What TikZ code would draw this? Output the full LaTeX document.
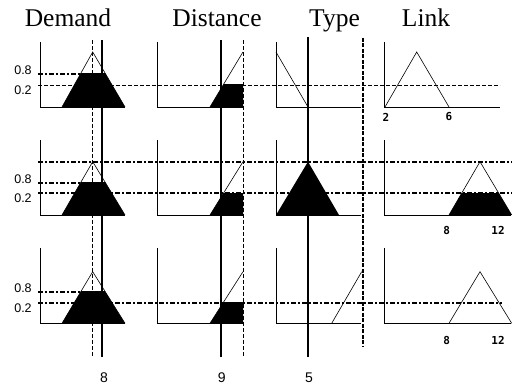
\documentclass[tikz,border=0pt]{standalone}
\usepackage{fontspec}
\setmainfont{Liberation Serif}
\newfontfamily\smallfont{Liberation Sans}
\newfontfamily\monofont{DejaVu Sans Mono}
\begin{document}
\begin{tikzpicture}[x=1pt,y=-1pt,
  axis/.style={line width=0.9pt},
  mf/.style={line width=0.6pt},
  thinrule/.style={line width=0.8pt,dash pattern=on 4pt off 2pt},
  cutrule/.style={line width=1.8pt,dash pattern=on 5pt off 2pt on 2pt off 2pt},
  inrule/.style={line width=2.4pt},
  sepdash/.style={line width=2.2pt,dash pattern=on 4pt off 1.5pt},
  title/.style={font=\fontsize{25.5}{30}\selectfont,anchor=base,inner sep=0pt},
  lvl/.style={font=\smallfont\fontsize{12.5}{14}\selectfont,inner sep=0pt},
  tick/.style={font=\monofont\bfseries\fontsize{11}{13}\selectfont,inner sep=0pt},
  inval/.style={font=\smallfont\fontsize{14}{16}\selectfont,inner sep=0pt}]
\useasboundingbox (0,0) rectangle (512,387);

% column titles
\node[title] (tDemand) at (68,26.7) {Demand};
\node[title] (tDistance) at (217,26.7) {Distance};
\node[title] (tType) at (334.5,26.7) {Type};
\node[title] (tLink) at (426,26.7) {Link};

% rows: axis top / apex level / 0.8 level / 0.2 level / base
\foreach \r/\top/\ya/\yh/\yl/\yb/\le in {1/42/52/74/85/107/500, 2/140/161.7/182.7/193.3/215/511, 3/248/271.7/291.7/302.7/323.3/511}{
  % Demand: clipped triangle
  \begin{scope}
    \clip (0,\yh) rectangle (512,\yb);
    \fill (62,\yb) -- (92.7,\ya) -- (125,\yb) -- cycle;
  \end{scope}
  \draw[mf] (62,\yb) -- (92.7,\ya) -- (125,\yb);
  % Distance: clipped ramp
  \begin{scope}
    \clip (0,\yl) rectangle (243,\yb);
    \fill (210,\yb) -- (243,\ya) -- (243,\yb) -- cycle;
  \end{scope}
  \draw[mf] (210,\yb) -- (243,\ya);
  % axes
  \draw[axis] (40,\top) -- (40,\yb) -- (125,\yb);
  \draw[axis] (157,\top) -- (157,\yb) -- (243,\yb);
  \draw[axis] (276,\top) -- (276,\yb) -- (361,\yb);
  \draw[axis] (384,\top) -- (384,\yb) -- (\le,\yb);
  % membership level labels
  \node[lvl] (l8\r) at (23,\yh-3.5) {0.8};
  \node[lvl] (l2\r) at (23,\yl+5) {0.2};
}

% Type, row 1: falling ramp
\draw[mf] (276,52) -- (308,107);
% Type, row 2: full triangle
\fill (276,215) -- (308,161.7) -- (339,215) -- cycle;
% Type, row 3: rising ramp
\draw[mf] (331.7,323.3) -- (361.7,271.7);

% Link, row 1
\draw[mf] (385,107) -- (416.7,52) -- (449,107);
% Link, row 2: clipped at 0.2
\begin{scope}
  \clip (0,193.3) rectangle (512,215);
  \fill (449,215) -- (480,161.7) -- (511.7,215) -- cycle;
\end{scope}
\draw[mf] (449,215) -- (480,161.7) -- (511.7,215);
% Link, row 3
\draw[mf] (449,323.3) -- (480,271.7) -- (511.7,323.3);

% horizontal cut levels
\draw[cutrule] (38,74) -- (80,74);
\draw[thinrule] (38,85) -- (500,85);
\draw[cutrule] (38,161.7) -- (512,161.7);
\draw[cutrule] (38,182.7) -- (80,182.7);
\draw[cutrule] (38,193.3) -- (512,193.3);
\draw[cutrule] (38,291.7) -- (80,291.7);
\draw[cutrule] (38,302.7) -- (502,302.7);

% input lines
\draw[thinrule] (92.7,40) -- (92.7,357);
\draw[inrule] (102,40) -- (102,357);
\draw[inrule] (221,40) -- (221,357);
\draw[thinrule] (243,40) -- (243,357);
\draw[inrule] (308,37) -- (308,357);
\draw[sepdash] (363,38) -- (363,347);

% link axis ticks
\node[tick] (k2) at (386,117) {2};
\node[tick] (k6) at (449,117) {6};
\node[tick] (k8a) at (446.7,230) {8};
\node[tick] (k12a) at (498,230) {12};
\node[tick] (k8b) at (446.7,340) {8};
\node[tick] (k12b) at (498,340) {12};

% input values
\node[inval] (vDemand) at (104,378) {8};
\node[inval] (vDistance) at (221.7,378) {9};
\node[inval] (vType) at (309,378) {5};
\end{tikzpicture}
\end{document}
